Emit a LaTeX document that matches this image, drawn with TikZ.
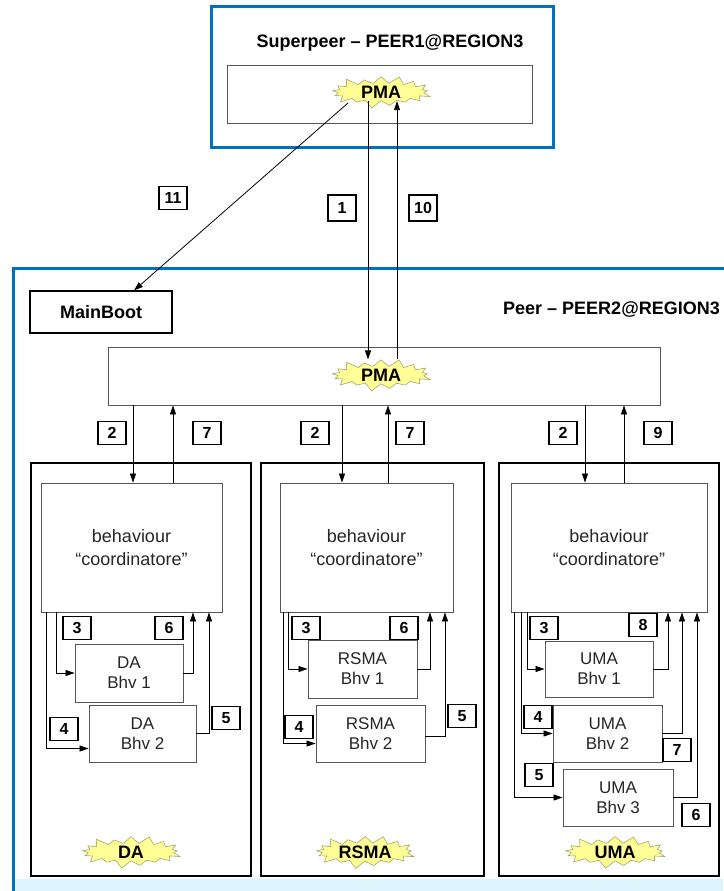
\documentclass[tikz,border=0pt]{standalone}
\usepackage{fontspec}
\setmainfont{Liberation Sans}
\usetikzlibrary{shapes.symbols,arrows.meta,calc}
\definecolor{peerblue}{RGB}{0,112,192}
\definecolor{staryellow}{RGB}{255,255,150}
\definecolor{staredge}{RGB}{165,165,110}
\definecolor{boxgray}{RGB}{85,85,85}
\definecolor{bandcyan}{RGB}{222,244,252}
\begin{document}
\begin{tikzpicture}[x=1pt,y=-1pt,
 container/.style={draw=peerblue,line width=3pt,inner sep=0pt},
 plainbox/.style={draw=boxgray,line width=0.9pt,inner sep=0pt},
 colbox/.style={draw=black,line width=1.5pt,inner sep=0pt},
 numbox/.style={draw=black,line width=1.5pt,inner sep=0pt,minimum width=28pt,minimum height=23pt,font=\fontsize{16}{16}\selectfont\bfseries},
 burst/.style={starburst,starburst points=17,starburst point height=9pt,fill=staryellow,draw=staredge,line width=0.6pt,inner sep=0pt,minimum width=104pt,minimum height=33pt,font=\fontsize{18}{18}\selectfont\bfseries},
 coordtext/.style={align=center,font=\fontsize{18}{23}\selectfont,text=black!85},
 bhvtext/.style={align=center,font=\fontsize{17}{20}\selectfont,text=black!85},
 titletext/.style={font=\fontsize{18}{18}\selectfont\bfseries,inner sep=0pt},
 arr/.style={draw=black,line width=0.8pt,-{Triangle[length=9pt,width=6pt]}},
]
\useasboundingbox (0,0) rectangle (723,891);
% bottom band
\fill[bandcyan] (13,879) rectangle (723,891);
% containers
\node[container,minimum width=342pt,minimum height=140pt] (sp) at (382,77) {};
\node[container,minimum width=730pt,minimum height=640pt,anchor=north west] (peer) at (12,267) {};
\node[titletext] (sptitle) at (390,43) {Superpeer – PEER1@REGION3};
\node[titletext,anchor=west] (peertitle) at (503,310) {Peer – PEER2@REGION3};
% superpeer PMA
\node[plainbox,minimum width=305pt,minimum height=58pt] (sprect) at (379.5,94) {};
\node[burst] (pma1) at (381,92) {PMA};
% MainBoot
\node[draw=black,line width=1.1pt,inner sep=0pt,minimum width=142pt,minimum height=42pt,font=\fontsize{18}{18}\selectfont\bfseries] (mainboot) at (101,312) {MainBoot};
% peer PMA
\node[plainbox,minimum width=552pt,minimum height=58pt] (pmarect) at (384,376) {};
\node[burst] (pma2) at (381,375) {PMA};
% top arrows
\draw[arr] ($(pma1.center)+(-33,11)$) -- (mainboot.north -| 134,0);
\draw[arr] (pma1.south -| 368,0) -- (pma2.north -| 368,0);
\draw[arr] (pma2.north -| 397,0) -- (pma1.south -| 397,0);
\node[numbox] (n11) at (173,198) {11};
\node[numbox,minimum height=26pt] (n1) at (342,208) {1};
\node[numbox,minimum height=26pt] (n10) at (423,208) {10};
% columns
\node[colbox,minimum width=220pt,minimum height=413pt] (colda) at (141,669.5) {};
\node[colbox,minimum width=223pt,minimum height=413pt] (colrs) at (372.5,669.5) {};
\node[colbox,minimum width=220pt,minimum height=413pt] (colum) at (609,669.5) {};
% coordinators
\node[plainbox,coordtext,minimum width=181pt,minimum height=129pt] (coda) at (131.5,547.5) {behaviour\\“coordinatore”};
\node[plainbox,coordtext,minimum width=173pt,minimum height=129pt] (cors) at (366.5,547.5) {behaviour\\“coordinatore”};
\node[plainbox,coordtext,minimum width=196pt,minimum height=129pt] (coum) at (609,547.5) {behaviour\\“coordinatore”};
% behaviours
\node[plainbox,bhvtext,minimum width=108pt,minimum height=58pt] (da1) at (129,673) {DA\\Bhv 1};
\node[plainbox,bhvtext,minimum width=107pt,minimum height=57pt] (da2) at (142.5,733.5) {DA\\Bhv 2};
\node[plainbox,bhvtext,minimum width=109pt,minimum height=58pt] (rs1) at (362.5,669) {RSMA\\Bhv 1};
\node[plainbox,bhvtext,minimum width=109pt,minimum height=57pt] (rs2) at (370.5,733.5) {RSMA\\Bhv 2};
\node[plainbox,bhvtext,minimum width=108pt,minimum height=56pt] (um1) at (599,669) {UMA\\Bhv 1};
\node[plainbox,bhvtext,minimum width=109pt,minimum height=57pt] (um2) at (607.5,733.5) {UMA\\Bhv 2};
\node[plainbox,bhvtext,minimum width=110pt,minimum height=57pt] (um3) at (618,797.5) {UMA\\Bhv 3};
% PMA <-> coordinators
\draw[arr] (pmarect.south -| 133,0) -- (coda.north -| 133,0);
\draw[arr] (coda.north -| 173,0) -- (pmarect.south -| 173,0);
\draw[arr] (pmarect.south -| 342,0) -- (cors.north -| 342,0);
\draw[arr] (cors.north -| 388,0) -- (pmarect.south -| 388,0);
\draw[arr] (pmarect.south -| 585,0) -- (coum.north -| 585,0);
\draw[arr] (coum.north -| 624,0) -- (pmarect.south -| 624,0);
\node[numbox] (da2l) at (112,433) {2};
\node[numbox] (da7l) at (207,433) {7};
\node[numbox] (rs2l) at (315,433) {2};
\node[numbox] (rs7l) at (410,433) {7};
\node[numbox] (um2l) at (563,433) {2};
\node[numbox] (um9l) at (658,433) {9};
% DA internal
\draw[arr] (coda.south -| 56,0) |- (da1.west);
\draw[arr] (coda.south -| 46,0) |- ([yshift=-15pt]da2.west);
\draw[arr] (da1.east) -| (coda.south -| 193,0);
\draw[arr] (da2.east) -| (coda.south -| 209,0);
\node[numbox] (dal3) at (77,628) {3};
\node[numbox] (dal6) at (169,628) {6};
\node[numbox] (dal4) at (64,729) {4};
\node[numbox] (dal5) at (226,718) {5};
% RSMA internal
\draw[arr] (cors.south -| 288,0) |- (rs1.west);
\draw[arr] (cors.south -| 283,0) |- ([yshift=-10pt]rs2.west);
\draw[arr] (rs1.east) -| (cors.south -| 430,0);
\draw[arr] ([yshift=-3pt]rs2.east) -| (cors.south -| 445,0);
\node[numbox] (rsl3) at (306,628) {3};
\node[numbox] (rsl6) at (404,628) {6};
\node[numbox] (rsl4) at (299,727) {4};
\node[numbox] (rsl5) at (462,716) {5};
% UMA internal
\draw[arr] (coum.south -| 527,0) |- (um1.west);
\draw[arr] (coum.south -| 521,0) |- (um2.west);
\draw[arr] (coum.south -| 514,0) |- (um3.west);
\draw[arr] (um1.east) -| (coum.south -| 668,0);
\draw[arr] (um2.east) -| (coum.south -| 682,0);
\draw[arr] (um3.east) -| (coum.south -| 697,0);
\node[numbox] (uml3) at (544,628) {3};
\node[numbox] (uml8) at (643,625) {8};
\node[numbox] (uml4) at (538,717) {4};
\node[numbox] (uml7) at (677,750) {7};
\node[numbox] (uml5) at (539,775) {5};
\node[numbox] (uml6) at (696,815) {6};
% agent bursts
\node[burst,minimum width=104pt,minimum height=35pt] (sda) at (131,852) {DA};
\node[burst,minimum width=104pt,minimum height=35pt] (srs) at (365,852) {RSMA};
\node[burst,minimum width=106pt,minimum height=35pt] (sum) at (615,852) {UMA};
\end{tikzpicture}
\end{document}
